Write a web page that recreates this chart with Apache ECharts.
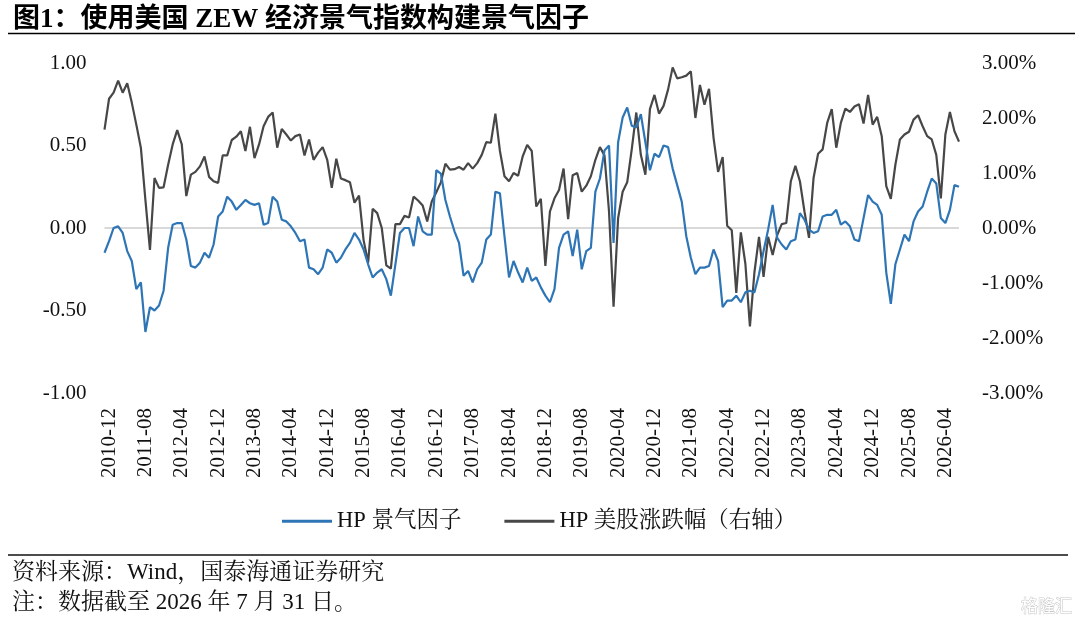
<!DOCTYPE html>
<html>
<head>
<meta charset="utf-8">
<script src="https://cdn.jsdelivr.net/npm/echarts@6/dist/echarts.min.js"></script>
<style>
html,body{margin:0;padding:0;background:#fff;}
#chart{width:1080px;height:621px;}
</style>
</head>
<body>
<div id="chart"></div>
<script>
// Monthly data, 2010-11 .. 2026-07
const startYear = 2010;
const startMonth = 11;

// HP 景气因子 (left axis)
const blueValues = [
-0.15,-0.08,0.00,0.01,-0.03,-0.14,-0.20,-0.37,-0.33,-0.63,
-0.48,-0.50,-0.47,-0.38,-0.12,0.02,0.03,0.03,-0.07,-0.23,
-0.24,-0.21,-0.15,-0.18,-0.10,0.07,0.10,0.19,0.16,0.11,
0.14,0.17,0.15,0.14,0.15,0.02,0.03,0.19,0.16,0.05,
0.04,0.01,-0.03,-0.08,-0.07,-0.24,-0.25,-0.28,-0.24,-0.13,
-0.15,-0.21,-0.18,-0.13,-0.09,-0.03,-0.07,-0.13,-0.22,-0.30,
-0.27,-0.25,-0.31,-0.41,-0.22,-0.03,0.00,0.00,-0.11,0.07,
-0.02,-0.04,-0.04,0.35,0.33,0.17,0.07,-0.02,-0.09,-0.29,
-0.26,-0.33,-0.25,-0.21,-0.07,-0.04,0.22,0.21,-0.05,-0.30,
-0.20,-0.27,-0.33,-0.24,-0.32,-0.30,-0.36,-0.41,-0.45,-0.37,
-0.12,-0.04,-0.02,-0.17,-0.01,-0.25,-0.14,-0.12,0.22,0.30,
0.47,0.50,-0.09,0.52,0.67,0.73,0.62,0.61,0.69,0.52,
0.35,0.45,0.43,0.50,0.49,0.36,0.26,0.16,-0.05,-0.18,
-0.28,-0.24,-0.24,-0.23,-0.13,-0.20,-0.48,-0.44,-0.44,-0.41,
-0.45,-0.39,-0.38,-0.39,-0.28,-0.14,-0.01,0.14,-0.06,-0.10,
-0.13,-0.08,-0.07,0.09,0.05,-0.01,-0.03,-0.02,0.07,0.08,
0.08,0.11,0.02,0.04,0.01,-0.07,-0.08,0.06,0.20,0.16,
0.14,0.08,-0.27,-0.46,-0.22,-0.13,-0.04,-0.08,0.04,0.10,
0.13,0.22,0.30,0.27,0.06,0.03,0.11,0.26,0.25
];

// HP 美股涨跌幅 (right axis, %)
const grayValues = [
1.79,2.35,2.46,2.68,2.46,2.63,2.28,1.88,1.46,0.51,
-0.40,0.91,0.73,0.74,1.15,1.52,1.78,1.52,0.58,0.97,
1.02,1.12,1.30,0.93,0.85,0.82,1.32,1.32,1.60,1.66,
1.76,1.40,1.84,1.27,1.52,1.85,2.02,2.10,1.46,1.80,
1.70,1.59,1.67,1.70,1.32,1.61,1.24,1.37,1.47,1.24,
0.73,1.26,0.90,0.87,0.83,0.46,0.59,-0.22,-0.63,0.35,
0.27,0.00,-0.68,-0.74,0.07,0.07,0.22,0.19,0.57,0.50,
0.41,0.12,0.48,0.65,0.83,1.17,1.06,1.07,1.11,1.06,
1.18,1.08,1.18,1.33,1.56,1.55,2.08,1.40,0.94,0.85,
1.00,0.95,1.30,1.51,1.40,0.39,0.53,-0.69,0.30,0.54,
0.69,1.08,0.16,0.96,1.00,0.66,0.77,0.94,1.24,1.47,
1.32,0.30,-1.43,0.18,0.66,0.83,1.43,2.10,1.33,0.97,
2.16,2.42,2.08,2.22,2.52,2.92,2.72,2.74,2.77,2.85,
2.00,2.60,2.24,2.53,1.64,1.02,1.29,0.04,-0.04,-1.18,
-0.08,-0.65,-1.79,-0.80,-0.16,-0.89,-0.16,-0.49,-0.13,0.07,
0.09,0.85,1.13,0.85,0.30,-0.18,0.91,1.35,1.43,1.91,
2.16,1.46,1.91,2.17,2.11,2.21,2.25,1.90,2.42,1.88,
2.02,1.67,0.76,0.53,1.15,1.61,1.70,1.75,1.97,2.05,
1.85,1.67,1.61,1.33,0.54,1.70,2.11,1.76,1.57
];

const seriesNames = ['HP 景气因子', 'HP 美股涨跌幅（右轴）'];
const leftTicks = {min: -1, max: 1, interval: 0.5};
const rightTicks = {min: -3, max: 3, interval: 1};

const categories = [];
for (let i = 0; i < blueValues.length; i++) {
  const m = startMonth - 1 + i;
  const y = startYear + Math.floor(m / 12);
  const mm = (m % 12) + 1;
  categories.push(y + '-' + (mm < 10 ? '0' + mm : '' + mm));
}

const FONT = '"Liberation Serif", "Times New Roman", "Noto Serif CJK SC", "Noto Sans CJK SC", serif';
const TITLE_FONT = '"Liberation Serif", "Noto Sans CJK SC", serif';

const chart = echarts.init(document.getElementById('chart'), null, {renderer: 'canvas'});
chart.setOption({
  animation: false,
  backgroundColor: '#fff',
  title: {
    text: '图1：使用美国 ZEW 经济景气指数构建景气因子',
    left: 8,
    top: 2,
    textStyle: {fontSize: 27, fontWeight: 'bold', fontFamily: TITLE_FONT, color: '#000'}
  },
  grid: {left: 104.5, right: 121, top: 63, bottom: 228},
  legend: {
    left: 277,
    top: 505,
    itemWidth: 50,
    itemHeight: 3,
    itemGap: 43,
    icon: 'rect',
    textStyle: {fontSize: 22.5, fontFamily: FONT, color: '#111'},
    data: seriesNames
  },
  xAxis: {
    type: 'category',
    boundaryGap: false,
    data: categories,
    axisLine: {show: false},
    axisTick: {show: false},
    splitLine: {show: false},
    axisLabel: {
      rotate: 90,
      margin: 15,
      interval: function (idx) { return idx % 8 === 1; },
      fontSize: 21,
      fontFamily: FONT,
      color: '#111'
    }
  },
  yAxis: [
    {
      type: 'value',
      min: leftTicks.min, max: leftTicks.max, interval: leftTicks.interval,
      axisLine: {show: false},
      axisTick: {show: false},
      axisLabel: {
        margin: 18,
        fontSize: 21, fontFamily: FONT, color: '#111',
        formatter: function (v) { return v.toFixed(2); }
      },
      splitLine: {
        show: true,
        lineStyle: {width: 2, color: ['rgba(0,0,0,0)', 'rgba(0,0,0,0)', '#d9d9d9', 'rgba(0,0,0,0)', 'rgba(0,0,0,0)']}
      }
    },
    {
      type: 'value',
      min: rightTicks.min, max: rightTicks.max, interval: rightTicks.interval,
      position: 'right',
      axisLine: {show: false},
      axisTick: {show: false},
      splitLine: {show: false},
      axisLabel: {
        margin: 23,
        fontSize: 21, fontFamily: FONT, color: '#111',
        formatter: function (v) { return v.toFixed(2) + '%'; }
      }
    }
  ],
  series: [
    {
      name: seriesNames[0],
      type: 'line',
      yAxisIndex: 0,
      data: blueValues,
      symbol: 'none',
      color: '#2e75b6',
      lineStyle: {width: 2.2, color: '#2e75b6'},
      z: 3
    },
    {
      name: seriesNames[1],
      type: 'line',
      yAxisIndex: 1,
      data: grayValues,
      symbol: 'none',
      color: '#474747',
      lineStyle: {width: 2.2, color: '#474747'},
      z: 2
    }
  ],
  graphic: [
    {type: 'line', shape: {x1: 8, y1: 33.5, x2: 1075, y2: 33.5}, style: {stroke: '#000', lineWidth: 1.5}},
    {type: 'line', shape: {x1: 8, y1: 555, x2: 1068, y2: 555}, style: {stroke: '#111', lineWidth: 1.5}},
    {type: 'text', style: {text: '资料来源：Wind，国泰海通证券研究', x: 12, y: 573, verticalAlign: 'middle', fontSize: 23, fontFamily: FONT, fill: '#111'}},
    {type: 'text', style: {text: '注：数据截至 2026 年 7 月 31 日。', x: 12, y: 603, verticalAlign: 'middle', fontSize: 23, fontFamily: FONT, fill: '#111'}},
    {type: 'text', style: {text: '格隆汇', x: 1072, y: 606, align: 'right', verticalAlign: 'middle', fontSize: 17, fontFamily: '"Noto Sans CJK SC", sans-serif', fill: '#ffffff', stroke: '#c8c8c8', lineWidth: 1}}
  ]
});
</script>
</body>
</html>
